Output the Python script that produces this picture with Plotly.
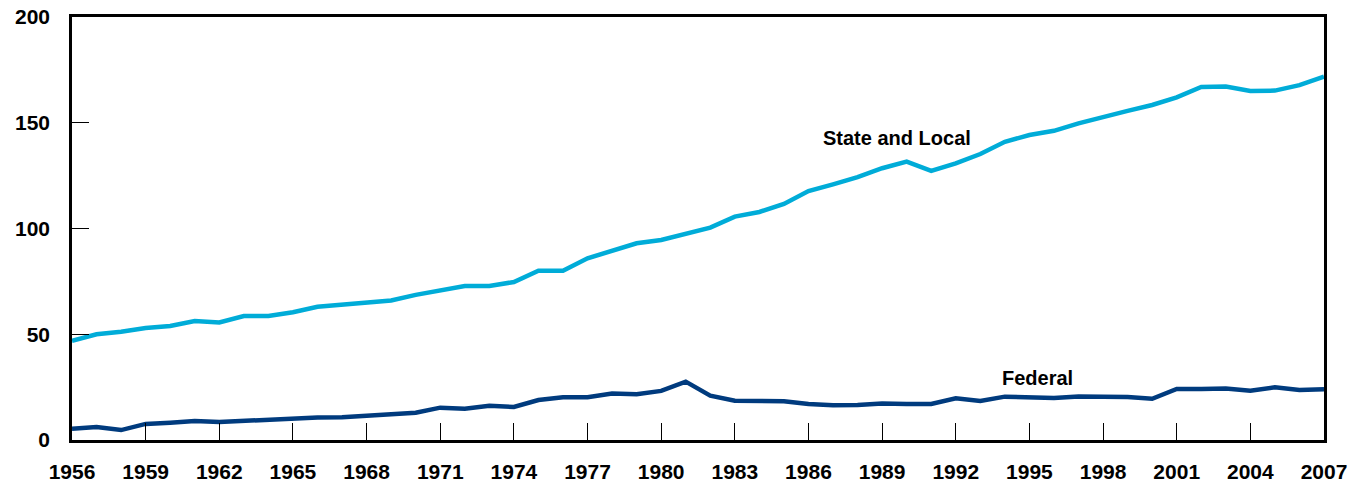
import plotly.graph_objects as go

years = list(range(1956, 2008))

state_local = [46.9, 50.0, 51.2, 53.0, 53.9, 56.3, 55.6, 58.6, 58.6, 60.4,
               63.0, 64.0, 64.8, 66.0, 68.6, 70.8, 72.8, 72.8, 74.7, 80.0,
               80.0, 85.9, 89.5, 93.0, 94.6, 97.3, 100.4, 105.6, 107.8, 111.6,
               117.7, 120.9, 124.3, 128.5, 131.6, 127.2, 130.8, 135.2, 141.0, 144.2,
               146.2, 149.7, 152.9, 155.6, 158.4, 162.0, 166.9, 167.1, 165.0, 165.2,
               167.8, 171.8]

federal = [5.3, 6.1, 4.7, 7.6, 8.2, 9.0, 8.5, 9.1, 9.3, 10.2,
           10.6, 10.7, 11.5, 12.0, 12.9, 15.3, 14.8, 16.2, 15.6, 18.9,
           20.2, 20.2, 22.0, 21.6, 23.2, 27.6, 21.0, 18.6, 18.4, 18.3,
           17.0, 16.4, 16.5, 17.2, 17.0, 17.0, 19.7, 18.4, 20.5, 20.3,
           19.9, 20.6, 20.6, 20.3, 19.5, 24.1, 24.1, 24.4, 23.3, 24.9,
           23.6, 24.0]

x_ticks = list(range(1956, 2008, 3))
y_ticks = [0, 50, 100, 150, 200]

font_fam = "Liberation Sans"

fig = go.Figure()
fig.add_trace(go.Scatter(x=years, y=state_local, mode="lines",
                         line=dict(color="#00ACD8", width=4.5),
                         name="State and Local"))
fig.add_trace(go.Scatter(x=years, y=federal, mode="lines",
                         line=dict(color="#003B7E", width=4.5),
                         name="Federal"))

# labels next to lines
fig.add_annotation(x=1986.5, y=143, text="State and Local", showarrow=False,
                   xanchor="left", yanchor="middle",
                   font=dict(family=font_fam, size=20, color="black", weight="bold"))
fig.add_annotation(x=1993.8, y=29.3, text="Federal", showarrow=False,
                   xanchor="left", yanchor="middle",
                   font=dict(family=font_fam, size=20, color="black", weight="bold"))

fig.update_xaxes(range=[1956, 2007], tickvals=x_ticks, ticks="inside", ticklen=17,
                 tickwidth=1.3, tickcolor="black", showline=True, linecolor="black",
                 linewidth=2.5, mirror=True, showgrid=False, zeroline=False,
                 ticklabelstandoff=11, automargin=False, ticklabeloverflow="allow",
                 tickfont=dict(family=font_fam, size=21, color="black", weight="bold"))
fig.update_yaxes(range=[0, 200], tickvals=y_ticks, ticks="inside", ticklen=17,
                 tickwidth=1.3, tickcolor="black", showline=True, linecolor="black",
                 linewidth=2.5, mirror=True, showgrid=False, zeroline=False,
                 ticklabelstandoff=15, automargin=False, ticklabeloverflow="allow",
                 tickfont=dict(family=font_fam, size=21, color="black", weight="bold"))

# page body adds an 8px offset, so the figure is sized a bit smaller
fig.update_layout(width=1351, height=477, showlegend=False,
                  plot_bgcolor="white", paper_bgcolor="white",
                  margin=dict(l=64, r=35, t=9, b=45))

fig.write_html("out.html")
